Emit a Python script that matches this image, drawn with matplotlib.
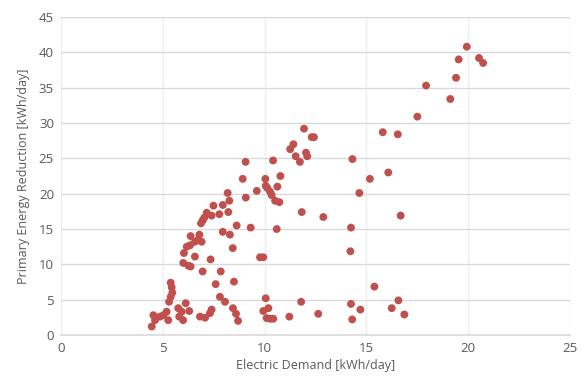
import matplotlib
matplotlib.use("Agg")
import matplotlib.pyplot as plt

# Electric demand [kWh/day] vs primary energy reduction [kWh/day]
demand = [
    19.94, 19.54, 20.54, 20.74, 19.41, 17.94, 19.13, 17.51, 15.81, 16.55,
    14.32, 16.08, 15.18, 14.66, 16.69, 14.25, 14.22, 15.40, 16.58, 16.25,
    16.87, 14.25, 14.71, 14.31, 12.64, 11.80, 11.22,
    11.94, 12.32, 12.43, 11.42, 11.26, 11.53, 12.04, 12.10, 11.74, 9.07,
    10.42, 8.93, 10.04, 10.78, 9.62, 10.06, 10.63, 10.14, 10.27, 10.35,
    10.52, 10.73, 9.08, 11.83, 12.89, 8.63, 9.32, 10.60, 8.44, 9.78, 9.94,
    8.50, 10.06, 8.45, 8.60, 8.70, 9.94, 10.19, 10.10, 10.27, 10.43,
    8.19, 8.27, 7.95, 7.49, 7.16, 7.40, 7.78, 8.22, 7.04, 6.96, 6.88,
    7.95, 8.30, 6.37, 6.80, 6.75, 6.91, 6.58, 6.34, 6.18, 6.04, 6.58,
    7.35, 6.01, 6.26, 6.37, 6.96, 7.85, 7.60, 5.39, 5.44, 5.47, 5.39,
    5.31, 7.81, 8.06, 6.13, 5.76, 5.93, 6.30, 5.81, 6.00, 7.40, 7.32,
    6.83, 7.08, 5.19, 5.27, 4.86, 5.03, 4.54, 4.62, 4.46,
]
reduction = [
    40.8, 39.0, 39.2, 38.5, 36.4, 35.3, 33.4, 30.9, 28.7, 28.4,
    24.9, 23.0, 22.1, 20.1, 16.9, 15.2, 11.85, 6.85, 4.9, 3.8,
    2.9, 4.4, 3.6, 2.2, 3.0, 4.7, 2.6,
    29.2, 28.0, 28.0, 27.0, 26.3, 25.3, 25.8, 25.3, 24.5, 24.5,
    24.7, 22.1, 22.1, 22.5, 20.4, 21.1, 21.0, 20.8, 20.3, 19.8,
    19.0, 18.8, 19.45, 17.4, 16.7, 15.5, 15.2, 15.0, 12.3, 11.0, 11.0,
    7.55, 5.2, 3.8, 3.0, 2.0, 3.4, 3.8, 2.4, 2.3, 2.3,
    20.1, 19.0, 18.4, 18.3, 17.3, 16.9, 17.1, 17.4, 16.6, 16.2, 15.8,
    14.6, 14.2, 14.0, 14.2, 13.5, 13.2, 13.2, 12.7, 12.5, 11.6, 11.1,
    10.7, 10.2, 9.8, 9.7, 9.0, 9.0, 7.2, 7.4, 6.75, 6.0, 5.4,
    4.7, 5.4, 4.7, 4.5, 3.8, 3.3, 3.4, 2.6, 2.1, 3.6, 3.1,
    2.6, 2.45, 3.3, 2.1, 2.6, 2.8, 2.8, 2.1, 1.2,
]

x_ticks = [0, 5, 10, 15, 20, 25]
y_ticks = [0, 5, 10, 15, 20, 25, 30, 35, 40, 45]

plt.rcParams['font.family'] = ['Open Sans', 'DejaVu Sans']

fig = plt.figure(figsize=(5.82, 3.81), dpi=100)
ax = fig.add_axes([0.1048, 0.1207, 0.8742, 0.8346])

ax.scatter(demand, reduction, s=32, color='#C0504D', edgecolors='none', zorder=3)

ax.set_xlim(0, 25)
ax.set_ylim(0, 45)
ax.set_xticks(x_ticks)
ax.set_yticks(y_ticks)

# horizontal grid stronger than vertical, like the Excel original
ax.yaxis.grid(True, color='#D9D9D9', linewidth=1)
ax.xaxis.grid(True, color='#EFEFEF', linewidth=1)
ax.set_axisbelow(True)

for side in ['top', 'right', 'left']:
    ax.spines[side].set_visible(False)
ax.spines['bottom'].set_color('#D9D9D9')
ax.spines['bottom'].set_linewidth(1.2)

ax.tick_params(length=0, labelsize=9.5, colors='#595959', pad=5)
ax.set_xlabel('Electric Demand [kWh/day]', fontsize=9, color='#595959', labelpad=3)
ax.set_ylabel('Primary Energy Reduction [kWh/day]', fontsize=9, color='#595959', labelpad=6)

fig.savefig('out.png', dpi=100)
